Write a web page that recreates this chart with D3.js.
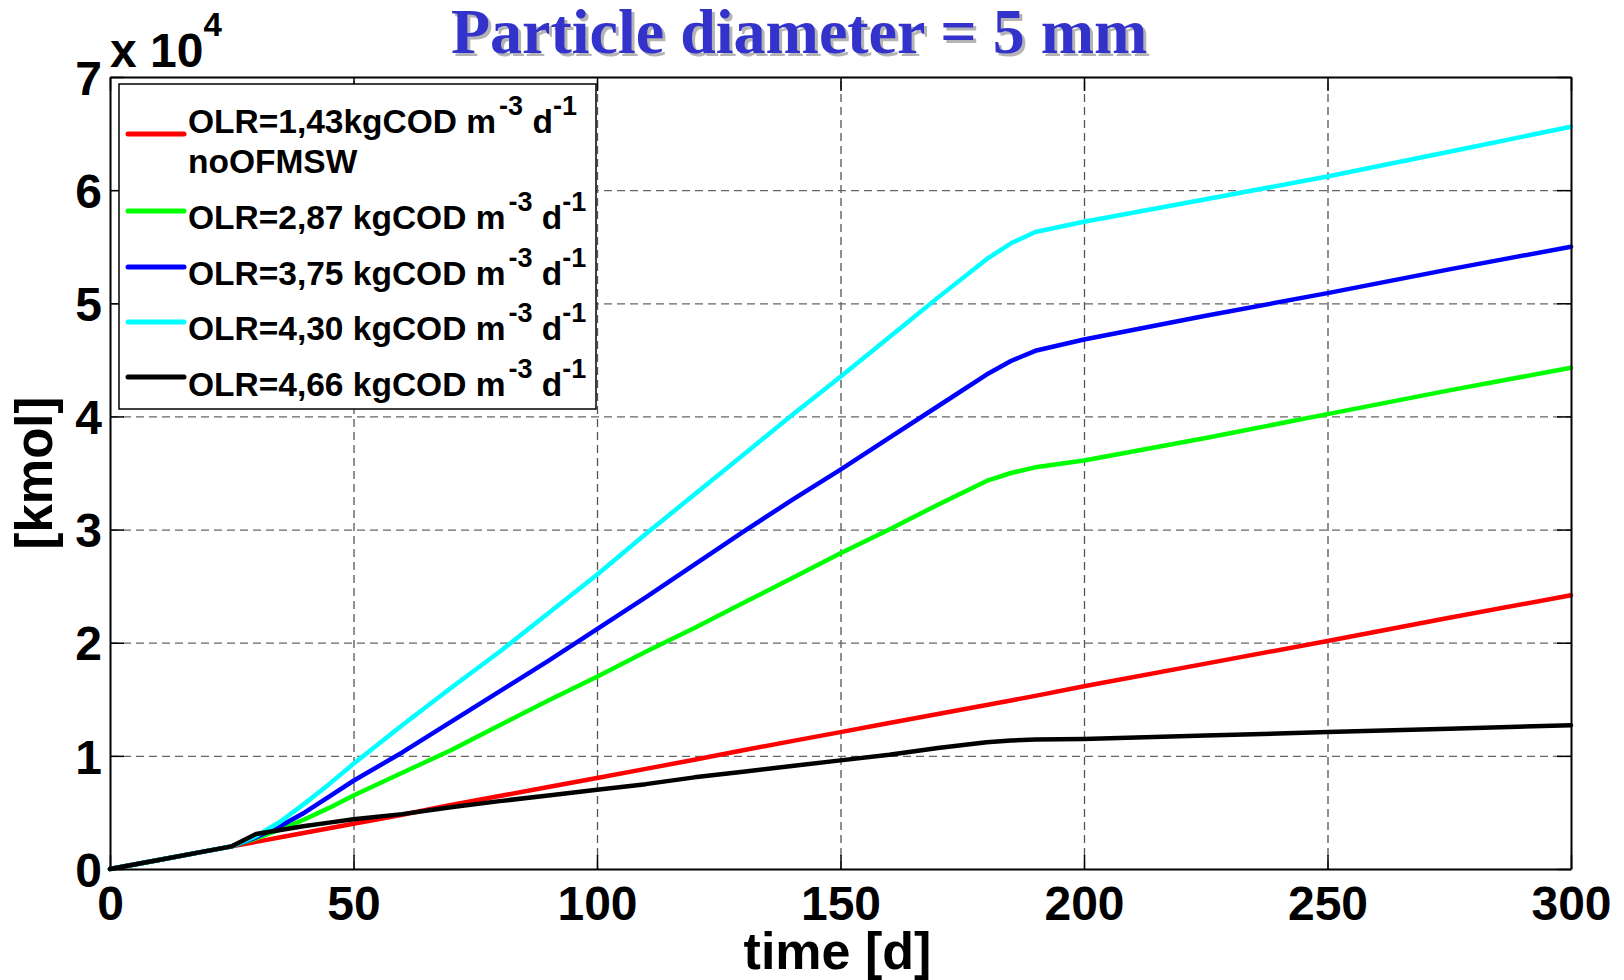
<!DOCTYPE html>
<html>
<head>
<meta charset="utf-8">
<script src="https://cdn.jsdelivr.net/npm/d3@7"></script>
<style>
  html, body { margin: 0; padding: 0; background: #ffffff; }
  svg { display: block; }
</style>
</head>
<body>
<svg id="chart" width="1624" height="980"></svg>
<script>
// ---- data ----
const days = [0, 10, 20, 25, 30, 35, 40, 45, 50, 60, 70, 80, 90, 100, 110, 120, 130, 140, 150, 160, 170, 180, 185, 190, 200, 225, 250, 275, 300];
const red   = [0, 800, 1600, 2000, 2400, 2800, 3200, 3600, 4000, 4800, 5650, 6450, 7250, 8050, 8850, 9650, 10500, 11300, 12100, 12900, 13700, 14500, 14900, 15300, 16150, 18150, 20150, 22200, 24200];
const green = [0, 800, 1600, 2000, 2700, 3500, 4400, 5400, 6500, 8500, 10500, 12700, 14900, 17000, 19200, 21300, 23500, 25700, 27900, 30000, 32200, 34300, 35000, 35500, 36100, 38100, 40200, 42300, 44300];
const blue  = [0, 800, 1600, 2000, 2800, 3800, 5000, 6400, 7800, 10300, 13000, 15700, 18400, 21200, 24000, 26900, 29800, 32600, 35300, 38100, 40900, 43700, 44900, 45800, 46800, 48900, 50900, 53000, 55000];
const cyan  = [0, 800, 1600, 2000, 2900, 4200, 5800, 7500, 9300, 12700, 16000, 19200, 22600, 26000, 29600, 33100, 36600, 40100, 43500, 47000, 50500, 53900, 55300, 56300, 57200, 59200, 61200, 63400, 65600];
const black = [0, 800, 1600, 2000, 3100, 3450, 3800, 4100, 4400, 4850, 5450, 6000, 6500, 7000, 7500, 8100, 8600, 9100, 9600, 10100, 10700, 11200, 11350, 11450, 11500, 11800, 12100, 12400, 12700];

const seriesNames = [
  ["OLR=1,43kgCOD m", "noOFMSW"],
  ["OLR=2,87 kgCOD m"],
  ["OLR=3,75 kgCOD m"],
  ["OLR=4,30 kgCOD m"],
  ["OLR=4,66 kgCOD m"]
];
const seriesColors = ["#ff0000", "#00ff00", "#0000ff", "#00ffff", "#000000"];
const seriesValues = [red, green, blue, cyan, black];

const xTicks = [0, 50, 100, 150, 200, 250, 300];
const yTicks = [0, 10000, 20000, 30000, 40000, 50000, 60000, 70000];
const titleText = "Particle diameter = 5 mm";
const xLabel = "time [d]";
const yLabel = "[kmol]";

// ---- layout ----
const L = 110, R = 1571, T = 77, B = 869;
const svg = d3.select("#chart");
const sans = "'Liberation Sans', Arial, sans-serif";
const serif = "'Liberation Serif', 'Times New Roman', serif";

const x = d3.scaleLinear().domain([0, 300]).range([L, R]);
const y = d3.scaleLinear().domain([0, 70000]).range([B, T]);

svg.append("rect").attr("x", 0).attr("y", 0).attr("width", 1624).attr("height", 980).attr("fill", "#fff");

// grid
const grid = svg.append("g").attr("class", "grid");
grid.append("g").attr("transform", `translate(0,${B})`)
  .call(d3.axisBottom(x).tickValues(xTicks.slice(1, -1)).tickSize(-(B - T)).tickFormat(""))
  .call(g => g.select(".domain").remove())
  .call(g => g.selectAll("line").attr("stroke", "#555").attr("stroke-width", 1.3).attr("stroke-dasharray", "8,5"));
grid.append("g").attr("transform", `translate(${L},0)`)
  .call(d3.axisLeft(y).tickValues(yTicks.slice(1, -1)).tickSize(-(R - L)).tickFormat(""))
  .call(g => g.select(".domain").remove())
  .call(g => g.selectAll("line").attr("stroke", "#666").attr("stroke-width", 1.3).attr("stroke-dasharray", "8,5"));

// lines
const line = d3.line().x((d, i) => x(days[i])).y(d => y(d));
seriesValues.forEach((vals, k) => {
  svg.append("path").datum(vals)
    .attr("d", line)
    .attr("fill", "none")
    .attr("stroke", seriesColors[k])
    .attr("stroke-width", 4.5)
    .attr("stroke-linejoin", "round")
    .attr("stroke-linecap", "round");
});

// axes
const tickLen = 14;
const xAxisB = svg.append("g").attr("transform", `translate(0,${B})`)
  .call(d3.axisBottom(x).tickValues(xTicks).tickSizeInner(-tickLen).tickSizeOuter(0).tickPadding(17).tickFormat(d3.format("d")));
const xAxisT = svg.append("g").attr("transform", `translate(0,${T})`)
  .call(d3.axisTop(x).tickValues(xTicks).tickSizeInner(-tickLen).tickSizeOuter(0).tickFormat(""));
const yAxisL = svg.append("g").attr("transform", `translate(${L},0)`)
  .call(d3.axisLeft(y).tickValues(yTicks).tickSizeInner(-tickLen).tickSizeOuter(0).tickPadding(8).tickFormat(d => d / 10000));
const yAxisR = svg.append("g").attr("transform", `translate(${R},0)`)
  .call(d3.axisRight(y).tickValues(yTicks).tickSizeInner(-tickLen).tickSizeOuter(0).tickFormat(""));
[xAxisB, xAxisT, yAxisL, yAxisR].forEach(g => {
  g.select(".domain").attr("stroke", "#000").attr("stroke-width", 2);
  g.selectAll(".tick line").attr("stroke", "#000").attr("stroke-width", 1.5);
  g.selectAll(".tick text").attr("fill", "#000").attr("font-family", sans).attr("font-weight", "bold").attr("font-size", 48);
});
yAxisL.selectAll(".tick text").attr("dy", "0.36em");

// exponent label
const expo = svg.append("text").attr("x", 110).attr("y", 67)
  .attr("font-family", sans).attr("font-weight", "bold").attr("font-size", 48).attr("fill", "#000");
expo.append("tspan").text("x 10");
expo.append("tspan").attr("font-size", 33).attr("dy", -31).text("4");

// axis titles
svg.append("text").attr("x", (L + R) / 2 - 3).attr("y", 969).attr("text-anchor", "middle")
  .attr("font-family", sans).attr("font-weight", "bold").attr("font-size", 52).attr("fill", "#000").text(xLabel);
svg.append("text").attr("transform", `translate(52,${(T + B) / 2}) rotate(-90)`).attr("text-anchor", "middle")
  .attr("font-family", sans).attr("font-weight", "bold").attr("font-size", 51).attr("fill", "#000").text(yLabel);

// title with shadow
[[3, 3, "#b4b4b4"], [0, 0, "#3333cc"]].forEach(([dx, dy, c]) => {
  svg.append("text").attr("x", 451 + dx).attr("y", 53 + dy)
    .attr("font-family", serif).attr("font-weight", "bold").attr("font-size", 64)
    .attr("fill", c).text(titleText);
});

// legend
svg.append("rect").attr("x", 119).attr("y", 84).attr("width", 477).attr("height", 325)
  .attr("fill", "#fff").attr("stroke", "#000").attr("stroke-width", 1.5);
const legLineY = [134, 211, 267, 322, 377];
const legBase = [133, 229, 285, 340, 396];
seriesNames.forEach((names, k) => {
  svg.append("line").attr("x1", 128).attr("x2", 184).attr("y1", legLineY[k]).attr("y2", legLineY[k])
    .attr("stroke", seriesColors[k]).attr("stroke-width", 5).attr("stroke-linecap", "round");
  const t = svg.append("text").attr("x", 188).attr("y", legBase[k])
    .attr("font-family", sans).attr("font-weight", "bold").attr("font-size", 33.5).attr("fill", "#000");
  t.append("tspan").text(names[0]);
  t.append("tspan").attr("font-size", 27).attr("dx", 3).attr("dy", -18).text("-3");
  t.append("tspan").attr("dy", 18).text(" d");
  t.append("tspan").attr("font-size", 27).attr("dy", -18).text("-1");
  if (names[1]) {
    svg.append("text").attr("x", 188).attr("y", legBase[k] + 40)
      .attr("font-family", sans).attr("font-weight", "bold").attr("font-size", 33.5).attr("fill", "#000").text(names[1]);
  }
});
</script>
</body>
</html>
